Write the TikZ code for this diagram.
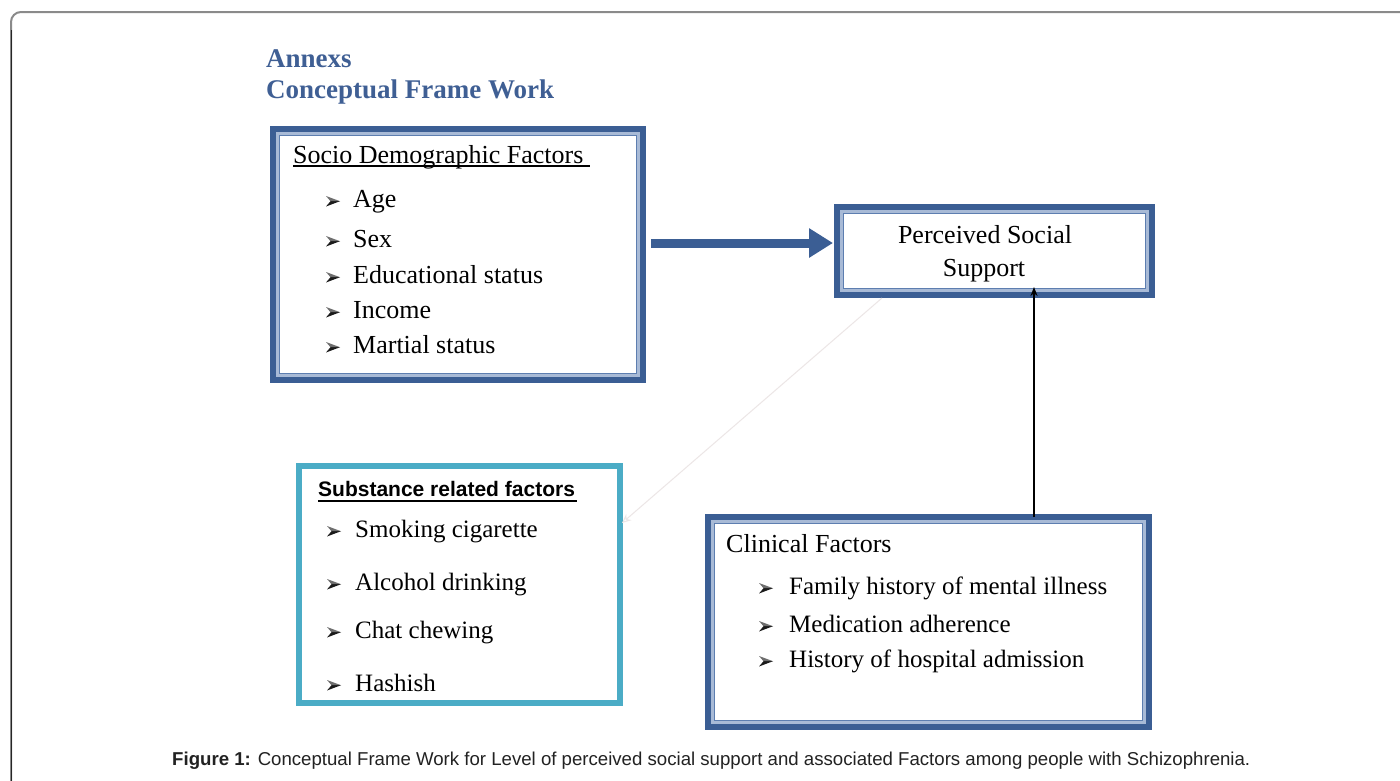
\documentclass[tikz,border=0pt]{standalone}
\usepackage{fontspec}
\usepackage{graphicx}
\setmainfont{Liberation Serif}
\setsansfont{Liberation Sans}
\usetikzlibrary{arrows.meta,calc}
\definecolor{boxblue}{HTML}{3B5E94}
\definecolor{lightband}{HTML}{A8BAD6}
\definecolor{innerline}{HTML}{5D7EB0}
\definecolor{cyanbox}{HTML}{4BACC6}
\definecolor{titleblue}{HTML}{3F5F94}
\definecolor{captext}{HTML}{222222}
\definecolor{framegray}{HTML}{8A8A8A}
\definecolor{faint}{HTML}{ECE6E6}
\definecolor{dartdark}{HTML}{1A1A1A}
\definecolor{dartlight}{HTML}{6E6E6E}
\newcommand{\dart}[1]{%
  \fill[dartdark] ([shift={(0,-0.5)}]#1) -- ([shift={(14,-5.8)}]#1) -- ([shift={(4.5,-5.8)}]#1) -- cycle;
  \fill[dartlight] ([shift={(0,-11)}]#1) -- ([shift={(14,-5.8)}]#1) -- ([shift={(4.5,-5.8)}]#1) -- cycle;}
\newcommand{\bands}[1]{%
  \draw[lightband, line width=3pt] ([shift={(4.5,4.5)}]#1.north west) rectangle ([shift={(-4.5,-4.5)}]#1.south east);
  \draw[innerline, line width=1.2pt] ([shift={(6.8,6.8)}]#1.north west) rectangle ([shift={(-6.8,-6.8)}]#1.south east);}
\begin{document}
\begin{tikzpicture}[x=1pt,y=-1pt,
  dbox/.style={draw=boxblue, line width=6pt, inner sep=0pt, outer sep=0pt, fill=white, anchor=north west},
  cbox/.style={draw=cyanbox, line width=6pt, inner sep=0pt, outer sep=0pt, fill=white, anchor=north west},
  txt/.style={anchor=base west, inner sep=0pt, font=\fontsize{26}{30}\selectfont},
  stxt/.style={anchor=base west, inner sep=0pt, font=\fontsize{25}{30}\selectfont},
  bl/.style={anchor=base west, inner sep=0pt},
  title/.style={anchor=base west, inner sep=0pt, text=titleblue, font=\bfseries\fontsize{27}{30}\selectfont}]
\useasboundingbox (0,0) rectangle (1400,780);
\fill[white] (0,0) rectangle (1400,780);
% outer frame
\draw[framegray, line width=2pt, rounded corners=10pt] (11,800) -- (11,12) -- (1420,12);
\draw[black!85, line width=1pt] (11,30) -- (11,790);
% titles
\node[title] (t1) at (266,67) {Annexs};
\node[title] (t2) at (266,98) {Conceptual Frame Work};
% boxes
\node[dbox, minimum width=370, minimum height=251] (socio) at (273,129) {};
\bands{socio}
\node[dbox, minimum width=315, minimum height=88] (perc) at (837,207) {};
\bands{perc}
\node[dbox, minimum width=441, minimum height=210] (clin) at (708,517) {};
\bands{clin}
\node[cbox, minimum width=321, minimum height=237] (subst) at (299,466) {};
% socio texts
\node[txt] (s0) at (293,163) {Socio Demographic Factors};
\draw[line width=1.2pt] ($(s0.base west)+(0,3)$) -- ($(s0.base east)+(6,3)$);
\coordinate (sb1) at (326,207); \dart{sb1} \node[txt] (s1) at (353,207) {Age};
\coordinate (sb2) at (326,247); \dart{sb2} \node[txt] (s2) at (353,247) {Sex};
\coordinate (sb3) at (326,283); \dart{sb3} \node[txt] (s3) at (353,283) {Educational status};
\coordinate (sb4) at (326,318); \dart{sb4} \node[txt] (s4) at (353,318) {Income};
\coordinate (sb5) at (326,353); \dart{sb5} \node[txt] (s5) at (353,353) {Martial status};
% perceived
\node[txt, anchor=base] (p1) at (985,243) {Perceived Social};
\node[txt, anchor=base] (p2) at (984,276) {Support};
% substance
\node[bl, font=\sffamily\bfseries\fontsize{21}{24}\selectfont] (u0) at (318,496) {Substance related factors};
\draw[line width=1.2pt] ($(u0.base west)+(0,5)$) -- ($(u0.base east)+(2,5)$);
\coordinate (ub1) at (327,537); \dart{ub1} \node[stxt] (u1) at (355,537) {Smoking cigarette};
\coordinate (ub2) at (327,590); \dart{ub2} \node[stxt] (u2) at (355,590) {Alcohol drinking};
\coordinate (ub3) at (327,638); \dart{ub3} \node[stxt] (u3) at (355,638) {Chat chewing};
\coordinate (ub4) at (327,691); \dart{ub4} \node[stxt] (u4) at (355,691) {Hashish};
% clinical
\node[txt] (c0) at (726,552) {Clinical Factors};
\coordinate (cb1) at (759,594); \dart{cb1} \node[stxt] (c1) at (789,594) {Family history of mental illness};
\coordinate (cb2) at (759,632); \dart{cb2} \node[stxt] (c2) at (789,632) {Medication adherence};
\coordinate (cb3) at (759,667); \dart{cb3} \node[stxt] (c3) at (789,667) {History of hospital admission};
% connectors
\draw[boxblue, line width=9pt, -{Triangle[length=24pt,width=28pt]}, shorten >=4pt]
  ($(socio.east |- 0,243)+(8,0)$) -- (perc.west |- 0,243);
\draw[black, line width=1.6pt, -{Stealth[length=9pt,width=7pt]}]
  ($(clin.north west)+(326,0)$) -- ($(perc.south west)+(197,-8)$);
\draw[faint, line width=1pt, -{Stealth[length=9pt,width=8pt,fill=white]}]
  ($(perc.south west)+(45,3)$) -- ($(subst.east |- 0,523)+(2,0)$);
% caption
\node[anchor=base west, inner sep=0pt, text=captext] (cap) at (172,765)
  {\resizebox{1078pt}{!}{\sffamily\fontsize{16}{18}\selectfont\textbf{Figure 1:} Conceptual Frame Work for Level of perceived social support and associated Factors among people with Schizophrenia.}};
\end{tikzpicture}
\end{document}
